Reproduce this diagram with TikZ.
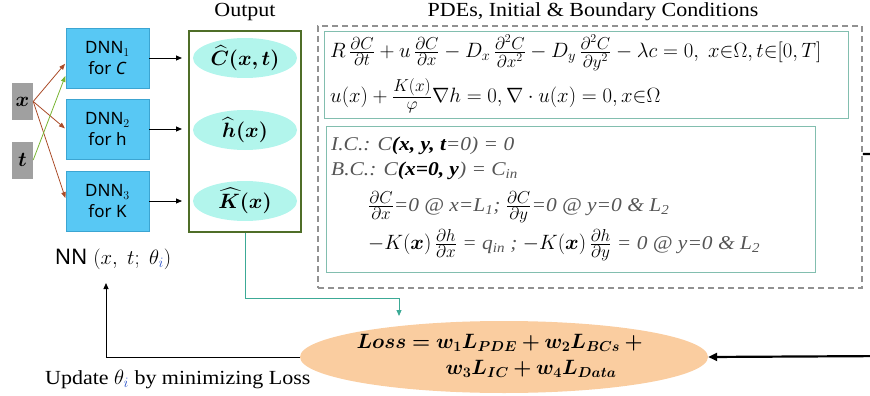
\documentclass[tikz,border=0pt]{standalone}
\usepackage{amsmath,bm}
\usepackage{fontspec}
\setmainfont{Liberation Serif}[FakeStretch=1.1]
\setsansfont{Noto Sans}
\usetikzlibrary{arrows.meta,shapes.geometric,calc}
\definecolor{inGray}{RGB}{160,160,160}
\definecolor{dnnBlue}{RGB}{88,200,244}
\definecolor{dnnEdge}{RGB}{60,165,210}
\definecolor{outGreen}{RGB}{79,110,40}
\definecolor{cyanL}{RGB}{178,245,236}
\definecolor{tealLine}{RGB}{60,170,150}
\definecolor{innerTeal}{RGB}{130,190,175}
\definecolor{dashGray}{RGB}{145,145,145}
\definecolor{lossOrange}{RGB}{250,205,160}
\definecolor{brownA}{RGB}{170,75,40}
\definecolor{greenA}{RGB}{120,180,50}
\definecolor{txtGray}{RGB}{85,85,85}
\definecolor{idxBlue}{RGB}{40,80,200}
\newcommand{\gi}[1]{{\color{txtGray}\itshape #1}}
\newcommand{\bi}[1]{{\bfseries\itshape #1}}
\newcommand{\mfs}[1]{\fontsize{#1}{#1}\selectfont}
\newcommand{\pf}[3]{\genfrac{}{}{}{1}{\mbox{\fontsize{#3}{#3}\selectfont$#1$}}{\mbox{\fontsize{#3}{#3}\selectfont$#2$}}}
\begin{document}
\begin{tikzpicture}[x=1pt,y=-1pt,
  inbox/.style={fill=inGray, minimum width=21pt, minimum height=37pt, inner sep=0pt, font=\fontsize{22}{24}\selectfont},
  dnn/.style={fill=dnnBlue, draw=dnnEdge, line width=0.6pt, minimum width=83pt, minimum height=60pt, inner sep=0pt, align=center, font=\sffamily\fontsize{17}{21}\selectfont},
  outell/.style={ellipse, fill=cyanL, minimum width=104pt, minimum height=40pt, inner sep=0pt, font=\fontsize{21.5}{24}\selectfont},
  arr/.style={-{Triangle[length=6pt,width=5pt]}, line width=0.8pt},
  inarr/.style={-{Triangle[length=6pt,width=4.5pt]}, line width=0.8pt, shorten >=1pt},
  title/.style={font=\fontsize{20}{24}\selectfont, inner sep=0pt},
  eqn/.style={anchor=west, inner sep=0pt, font=\fontsize{21}{25}\selectfont},
  bcline/.style={anchor=west, inner sep=0pt, font=\fontsize{19.5}{23}\selectfont},
  losstxt/.style={inner sep=0pt, font=\fontsize{19.5}{23}\selectfont}
]
\useasboundingbox (0,0) rectangle (870,396);

% titles
\node[title] (outtitle) at (245,12) {Output};
\node[title] (pdetitle) at (593,12) {PDEs, Initial \& Boundary Conditions};

% inputs
\node[inbox] (x) at (22.5,101.5) {$\bm{x}$};
\node[inbox] (t) at (22.5,160) {$\bm{t}$};

% DNNs
\node[dnn] (d1) at (107.5,58) {DNN$_1$\\for \textit{C}};
\node[dnn] (d2) at (107.5,129) {DNN$_2$\\for h};
\node[dnn] (d3) at (107.5,201) {DNN$_3$\\for K};

% input arrows
\draw[inarr, draw=brownA] (x.east) -- ($(d1.west)+(0,5)$);
\draw[inarr, draw=brownA] (x.east) -- (d2.west);
\draw[inarr, draw=brownA] (x.east) -- ($(d3.west)+(0,-2)$);
\draw[inarr, draw=greenA] (t.east) -- ($(d1.west)+(0,17)$);

% output box
\node[draw=outGreen, line width=2pt, minimum width=112pt, minimum height=201pt, inner sep=0pt] (out) at (245,131.5) {};
\node[outell] (e1) at (245,58) {$\bm{\widehat{C}(x,t)}$};
\node[outell] (e2) at (245,130) {$\bm{\widehat{h}(x)}$};
\node[outell] (e3) at (245,201) {$\bm{\widehat{K}(x)}$};

\draw[arr, shorten >=6pt] (d1.east) -- (d1.east -| out.west);
\draw[arr, shorten >=6pt] (d2.east) -- (d2.east -| out.west);
\draw[arr, shorten >=6pt] (d3.east) -- (d3.east -| out.west);

% NN label
\node[inner sep=0pt, font=\fontsize{21.5}{24}\selectfont] (nn) at (113,259) {{\sffamily NN} $(x,\ t;\ \theta_{\color{idxBlue}i})$};

% dashed box and inner boxes
\node[draw=dashGray, line width=1.8pt, dash pattern=on 6pt off 4pt, minimum width=544pt, minimum height=262pt, inner sep=0pt] (bc) at (590,157) {};
\node[draw=innerTeal, line width=1pt, minimum width=524pt, minimum height=86pt, inner sep=0pt] (pdebox) at (586,75) {};
\node[draw=innerTeal, line width=1pt, minimum width=489pt, minimum height=146pt, inner sep=0pt] (icbox) at (570.5,199) {};

% PDE equations
\node[eqn] (eq1) at (330,53) {$R\,\pf{\partial C}{\partial t}{17} + u\,\pf{\partial C}{\partial x}{17} - D_x\,\pf{\partial^2 C}{\partial x^2}{17} - D_y\,\pf{\partial^2 C}{\partial y^2}{17} - \lambda c = 0,\ x{\in}\Omega, t{\in}[0,T]$};
\node[eqn] (eq2) at (330,96) {$u(x) + \pf{K(x)}{\varphi}{17}\nabla h = 0, \nabla\cdot u(x) = 0, x{\in}\Omega$};

% IC / BC
\node[bcline] (ic) at (331,146) {\gi{I.C.: C}\bi{(x, y, t}\gi{=0) = 0}};
\node[bcline] (bcl) at (331,171) {\gi{B.C.: C}\bi{(x=0, y}\gi{) = C\textsubscript{in}}};
\node[bcline] (bc3) at (368,207) {{\mfs{21}$\pf{\partial C}{\partial x}{18}$}\gi{=0 @ x=L\textsubscript{1}; }{\mfs{21}$\pf{\partial C}{\partial y}{18}$}\gi{=0 @ y=0 \& L\textsubscript{2}}};
\node[bcline] (bc4) at (368,245) {{\mfs{21}$-K(\bm{x})\,\pf{\partial h}{\partial x}{18}$} \gi{= q\textsubscript{in} ; }{\mfs{21}$-K(\bm{x})\,\pf{\partial h}{\partial y}{18}$}\gi{ = 0 @ y=0 \& L\textsubscript{2}}};

% loss
\node[ellipse, fill=lossOrange, minimum width=408pt, minimum height=72pt, inner sep=0pt] (loss) at (504,357) {};
\node[losstxt] (l1) at (502,343) {$\bm{Loss = w_1 L_{PDE} + w_2 L_{BCs} +{}}$};
\node[losstxt] (l2) at (531,369) {$\bm{w_3 L_{IC} + w_4 L_{Data}}$};

% update text
\node[anchor=west, inner sep=0pt, font=\fontsize{20}{24}\selectfont] (upd) at (45,379) {Update $\theta_{\color{idxBlue}i}$ by minimizing Loss};

% connectors
\coordinate (tealbend) at (245,298);
\coordinate (tealtip) at (399,316);
\draw[draw=tealLine, line width=0.9pt, -{Triangle[length=6pt,width=5pt]}] (out.south) -- (tealbend) -| (tealtip);

\coordinate (fbtip) at (106,283);
\draw[arr] (loss.west) -| (fbtip);

\coordinate (ra) at (890,154);
\coordinate (rb) at (890,356);
\draw[line width=2.2pt, -{Triangle[length=9pt,width=8pt]}] (bc.east |- ra) -- (ra) -- (rb) -- (loss.east);
\end{tikzpicture}
\end{document}
